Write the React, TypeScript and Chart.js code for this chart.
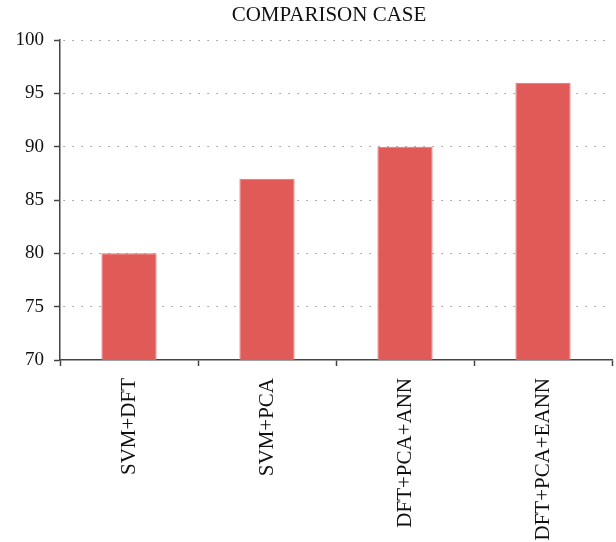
import React, { useEffect, useRef } from "react";
import { Chart, registerables } from "chart.js";

Chart.register(...registerables);

const categories = ["SVM+DFT", "SVM+PCA", "DFT+PCA+ANN", "DFT+PCA+EANN"];
const values = [80, 87, 90, 96];
const yTicks = [70, 75, 80, 85, 90, 95, 100];
const titleText = "COMPARISON CASE";

const FONT = "'Liberation Serif', 'Times New Roman', serif";

const titlePlugin = {
  id: "customTitle",
  afterDraw(chart: any) {
    const c = chart.ctx;
    c.save();
    c.font = `21px ${FONT}`;
    c.fillStyle = "#111";
    c.textAlign = "center";
    c.textBaseline = "middle";
    const area = chart.chartArea;
    c.fillText(titleText, (area.left + area.right) / 2 - 7, 15.6);
    c.restore();
  },
};

export default function App() {
  const ref = useRef<HTMLCanvasElement>(null);
  useEffect(() => {
    document.body.style.margin = "0";
    const ctx = ref.current!;
    const chart = new Chart(ctx, {
      type: "bar",
      data: {
        labels: categories,
        datasets: [
          {
            data: values,
            backgroundColor: "#E05A57",
            borderColor: "#E8706C",
            borderWidth: 1,
            barPercentage: 0.4,
            categoryPercentage: 1,
          },
        ],
      },
      plugins: [titlePlugin],
      options: {
        animation: false,
        responsive: false,
        maintainAspectRatio: false,
        layout: { padding: { left: 0, right: 4, top: 0, bottom: 0 } },
        plugins: {
          legend: { display: false },
          tooltip: { enabled: false },
          title: {
            display: true,
            text: titleText,
            color: "rgba(0,0,0,0)",
            font: { family: FONT, size: 21, weight: "normal" },
            padding: { top: 3, bottom: 11.8 },
          },
        },
        scales: {
          x: {
            grid: {
              display: true,
              drawOnChartArea: false,
              drawTicks: true,
              tickLength: 6,
              tickColor: "#444",
              tickWidth: 1.5,
              offset: true,
            },
            border: { display: true, color: "#444", width: 1.5 },
            ticks: {
              color: "#111",
              font: { family: FONT, size: 21 },
              minRotation: 90,
              maxRotation: 90,
              padding: 12,
            },
            afterFit: (s: any) => {
              s.height = 182;
            },
          },
          y: {
            min: 70,
            max: 100,
            afterBuildTicks: (s: any) => {
              s.ticks = yTicks.map((v) => ({ value: v }));
            },
            grid: {
              display: true,
              color: (c: any) => (c.tick && c.tick.value === 70 ? "rgba(0,0,0,0)" : "#777"),
              lineWidth: 1,
              drawTicks: true,
              tickLength: 6,
              tickColor: "#444",
              tickWidth: 1.5,
              tickBorderDash: [],
            },
            border: { display: true, color: "#444", width: 1.5, dash: [1.2, 7.8], dashOffset: -3 },
            ticks: {
              color: "#111",
              font: { family: FONT, size: 19 },
              padding: 10,
              stepSize: 5,
            },
            afterFit: (s: any) => {
              s.width = 60;
            },
          },
        },
      },
    });
    return () => chart.destroy();
  }, []);
  return (
    <div style={{ position: "absolute", left: 0, top: 0, width: 616, height: 542 }}>
      <canvas ref={ref} width={616} height={542} style={{ width: 616, height: 542 }} />
    </div>
  );
}
